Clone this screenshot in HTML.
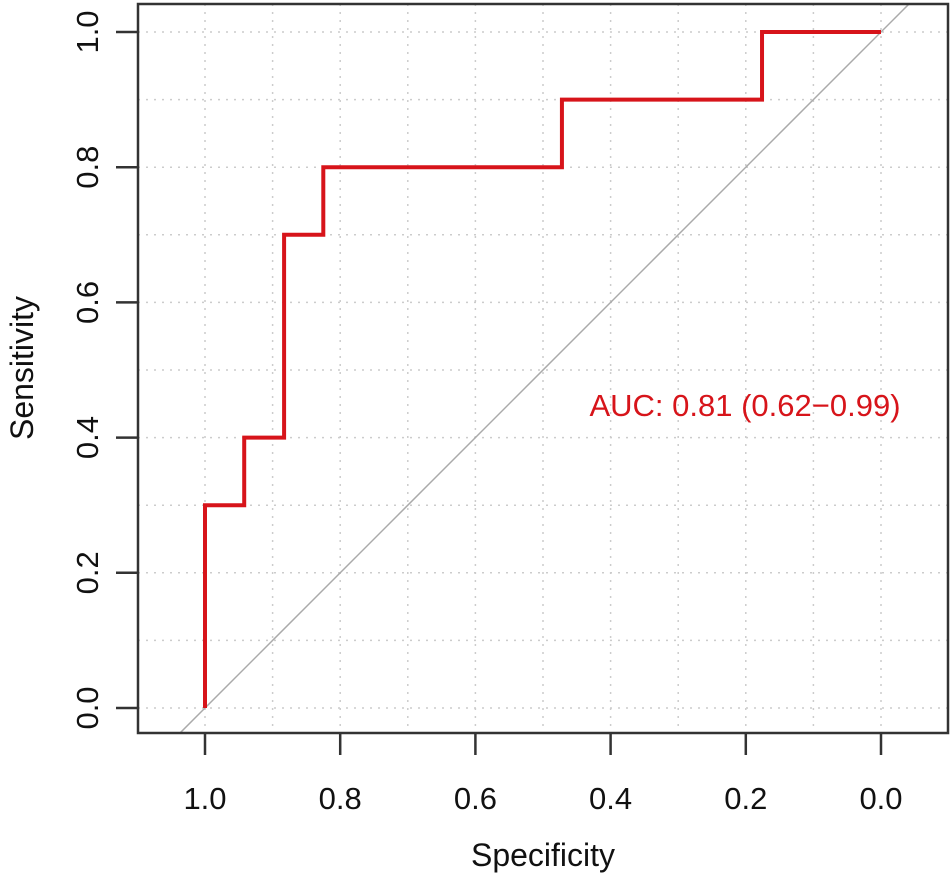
<!DOCTYPE html>
<html><head><meta charset="utf-8"><style>
html,body{margin:0;padding:0;background:#fff;width:952px;height:878px;overflow:hidden;}
svg{display:block;font-family:"Liberation Sans",sans-serif;}
</style></head><body>
<svg id="chart" width="952" height="878">
<defs><clipPath id="plotclip"><rect x="138" y="4" width="810" height="729"/></clipPath></defs>
<g id="grid"></g>
<line id="diag" stroke="#aaa" stroke-width="1.5" clip-path="url(#plotclip)"/>
<path id="roc" fill="none" stroke="#d7141a" stroke-width="4"/>
<rect x="138" y="4" width="810" height="729" fill="none" stroke="#333" stroke-width="2.5"/>
<g id="axes"></g>
<text x="745" y="416" font-size="31" fill="#d7141a" text-anchor="middle">AUC: 0.81 (0.62−0.99)</text>
<text x="543" y="866" font-size="32" fill="#111" text-anchor="middle">Specificity</text>
<text transform="translate(33,368) rotate(-90)" font-size="32" fill="#111" text-anchor="middle">Sensitivity</text>
</svg>
<script>
const specificity=[1,1,0.942,0.942,0.883,0.883,0.825,0.825,0.472,0.472,0.176,0.176,0];
const sensitivity=[0,0.3,0.3,0.4,0.4,0.7,0.7,0.8,0.8,0.9,0.9,1,1];
const xTicks=[1.0,0.8,0.6,0.4,0.2,0.0];
const yTicks=[0.0,0.2,0.4,0.6,0.8,1.0];
const xs=v=>881-(v)*676;
const ys=v=>708-v*676;
const NS="http://www.w3.org/2000/svg";
const grid=document.getElementById('grid');
for(let i=-1;i<=11;i++){
 const v=i/10;
 const gx=xs(v);
 if(gx>138&&gx<948){
  const l=document.createElementNS(NS,'line');
  l.setAttribute('x1',gx);l.setAttribute('x2',gx);l.setAttribute('y1',4);l.setAttribute('y2',733);
  l.setAttribute('stroke','#ccc');l.setAttribute('stroke-dasharray','2 6');l.setAttribute('stroke-width','1.5');
  
  
  grid.appendChild(l);}
 const gy=ys(v);
 if(gy>4&&gy<733){
  const l=document.createElementNS(NS,'line');
  l.setAttribute('y1',gy);l.setAttribute('y2',gy);l.setAttribute('x1',138);l.setAttribute('x2',948);
  l.setAttribute('stroke','#ccc');l.setAttribute('stroke-dasharray','2 6');l.setAttribute('stroke-width','1.5');
  
  
  grid.appendChild(l);}
}
const d=document.getElementById('diag');
d.setAttribute('x1',xs(1.5));d.setAttribute('y1',ys(-0.5));d.setAttribute('x2',xs(-0.5));d.setAttribute('y2',ys(1.5));
document.getElementById('roc').setAttribute('d',specificity.map((s,i)=>(i?'L':'M')+xs(s)+' '+ys(sensitivity[i])).join(' '));
const axes=document.getElementById('axes');
xTicks.forEach(v=>{
 const l=document.createElementNS(NS,'line');
 l.setAttribute('x1',xs(v));l.setAttribute('x2',xs(v));l.setAttribute('y1',733);l.setAttribute('y2',755);
 l.setAttribute('stroke','#333');l.setAttribute('stroke-width','2.5');
 
 
 axes.appendChild(l);
 const t=document.createElementNS(NS,'text');
 t.setAttribute('x',xs(v));t.setAttribute('y',809);t.setAttribute('font-size','31');t.setAttribute('text-anchor','middle');t.setAttribute('fill','#111');
 t.textContent=v.toFixed(1);
 
 
 axes.appendChild(t);
});
yTicks.forEach(v=>{
 const l=document.createElementNS(NS,'line');
 l.setAttribute('x1',116);l.setAttribute('x2',138);l.setAttribute('y1',ys(v));l.setAttribute('y2',ys(v));
 l.setAttribute('stroke','#333');l.setAttribute('stroke-width','2.5');
 
 
 axes.appendChild(l);
 const t=document.createElementNS(NS,'text');
 t.setAttribute('transform','translate(98,'+ys(v)+') rotate(-90)');t.setAttribute('font-size','31');t.setAttribute('text-anchor','middle');t.setAttribute('fill','#111');
 t.textContent=v.toFixed(1);
 
 
 axes.appendChild(t);
});
</script>
</body></html>
